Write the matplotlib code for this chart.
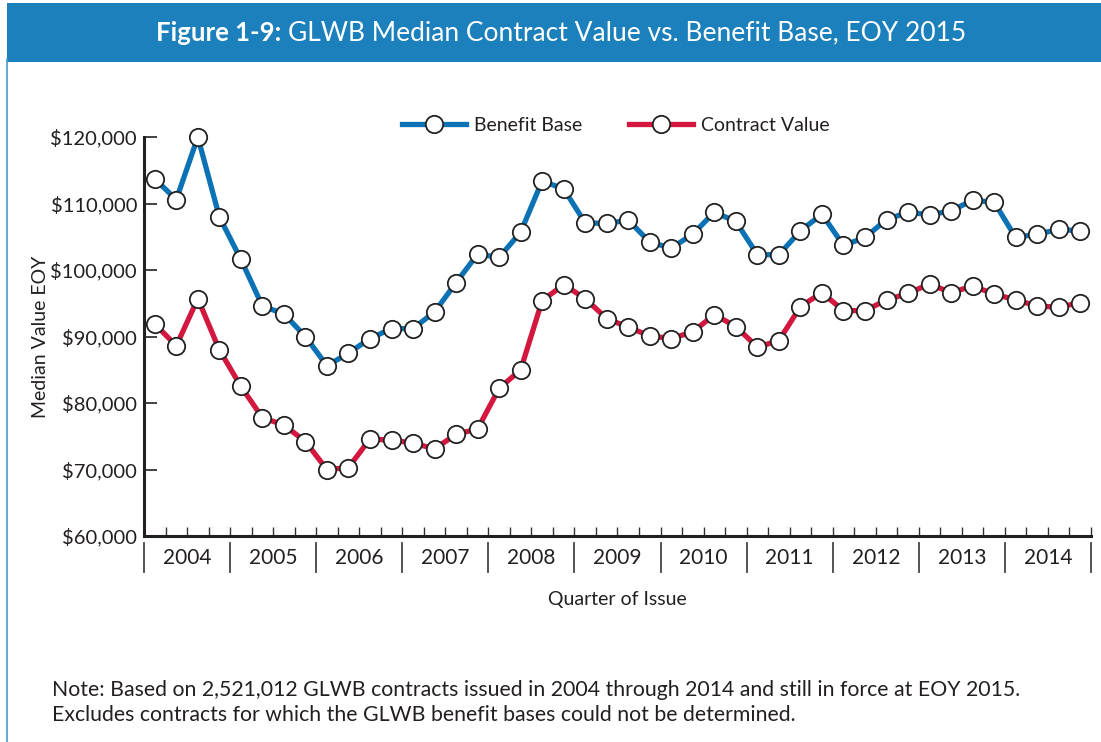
import matplotlib
matplotlib.use('Agg')
import matplotlib.pyplot as plt
import numpy as np
from matplotlib.lines import Line2D
from matplotlib.patches import Rectangle

plt.rcParams['font.family'] = ['Lato', 'DejaVu Sans']

years = ['2004', '2005', '2006', '2007', '2008', '2009', '2010', '2011', '2012', '2013', '2014']

# median values in $ thousands, one point per quarter 2004Q1..2014Q4
benefit_base = [113.7, 110.6, 120.0, 108.0, 101.6, 94.6, 93.4, 90.0,
                85.6, 87.5, 89.7, 91.2, 91.2, 93.7, 98.1, 102.4,
                101.9, 105.7, 113.4, 112.2, 107.1, 107.0, 107.5, 104.2,
                103.3, 105.4, 108.7, 107.3, 102.3, 102.3, 105.9, 108.4,
                103.7, 104.9, 107.6, 108.7, 108.3, 108.9, 110.5, 110.2,
                104.9, 105.4, 106.1, 105.9]
contract_value = [91.9, 88.6, 95.7, 88.0, 82.5, 77.8, 76.7, 74.2,
                  70.0, 70.3, 74.6, 74.4, 74.0, 73.1, 75.3, 76.1,
                  82.2, 85.0, 95.4, 97.8, 95.7, 92.7, 91.4, 90.1,
                  89.7, 90.7, 93.3, 91.5, 88.4, 89.4, 94.5, 96.6,
                  93.9, 93.9, 95.5, 96.5, 97.9, 96.6, 97.6, 96.4,
                  95.5, 94.6, 94.4, 95.1]
y_ticks = [60000, 70000, 80000, 90000, 100000, 110000, 120000]

blue = '#0b73b5'
red = '#d3173f'
txt = '#231f20'

bb = np.array(benefit_base) * 1000
cv = np.array(contract_value) * 1000
q = np.arange(len(bb))

fig = plt.figure(figsize=(11.01, 7.42), dpi=100)

# title banner and frame line
fig.patches.append(Rectangle((0.0064, 0.9164), 0.9936, 0.0796, transform=fig.transFigure,
                             facecolor='#1b80bb', edgecolor='none', zorder=0))
fig.add_artist(Line2D([0.0068, 0.0068], [0.0, 0.92], transform=fig.transFigure,
                      color='#4a9ad0', lw=1.2))
fig.text(0.255, 0.9555, 'Figure 1-9:', color='white', fontsize=18.5, fontweight='bold',
         ha='right', va='center')
fig.text(0.2615, 0.9555, 'GLWB Median Contract Value vs. Benefit Base, EOY 2015',
         color='white', fontsize=19, ha='left', va='center')

ax = fig.add_axes([0.1308, 0.2776, 0.8601, 0.5377])

mk = dict(marker='o', markersize=12.5, markerfacecolor='white',
          markeredgecolor='#222222', markeredgewidth=1.3, clip_on=False)
ax.plot(q, bb, color=blue, lw=3.8, label='Benefit Base', **mk)
ax.plot(q, cv, color=red, lw=3.8, label='Contract Value', **mk)

ax.set_xlim(-0.5, len(q) - 0.5)
ax.set_ylim(60000, 120000)

for s in ['top', 'right']:
    ax.spines[s].set_visible(False)
for s in ['left', 'bottom']:
    ax.spines[s].set_linewidth(2.2)
    ax.spines[s].set_color('#231f20')

ax.set_xticks(np.arange(-0.5, len(q), 1.0))
ax.set_xticklabels([])
ax.tick_params(axis='x', direction='in', length=6.5, width=1.0, color='#333333')
ax.set_yticks(y_ticks)
ax.set_yticklabels(['${:,.0f}'.format(v) for v in y_ticks])
ax.tick_params(axis='y', direction='in', length=9.5, width=1.3, color='#333333',
               labelsize=14.5, labelcolor=txt, pad=5)

# year separators and labels under the axis
tr = ax.get_xaxis_transform()
for k in range(len(years) + 1):
    ax.plot([k * 4 - 0.5, k * 4 - 0.5], [-0.017, -0.09], transform=tr, color='#444444',
            lw=1.3, clip_on=False)
for k, yr in enumerate(years):
    ax.text(k * 4 + 1.5, -0.055, yr, transform=tr, ha='center', va='center',
            fontsize=15, color=txt)

ax.set_xlabel('Quarter of Issue', fontsize=14, color=txt, labelpad=36)
ax.set_ylabel('Median Value EOY', fontsize=14, color=txt, labelpad=1)

ax.legend(loc='center', bbox_to_anchor=(0.498, 1.03), ncol=2, frameon=False,
          fontsize=14, handlelength=3.3, columnspacing=2.4, handletextpad=0.4,
          labelcolor=txt)

fig.text(0.0472, 0.0701, 'Note: Based on 2,521,012 GLWB contracts issued in 2004 through 2014 '
         'and still in force at EOY 2015.', fontsize=15.3, color=txt, va='center')
fig.text(0.0472, 0.0364, 'Excludes contracts for which the GLWB benefit bases could not be '
         'determined.', fontsize=15.3, color=txt, va='center')

fig.savefig('out.png', dpi=100)
